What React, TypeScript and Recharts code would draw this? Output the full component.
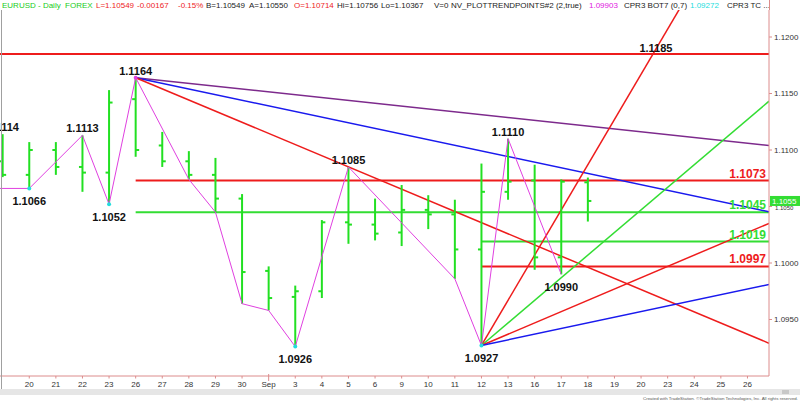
import React from 'react';
import {
  ComposedChart,
  XAxis,
  YAxis,
  Line,
  Scatter,
  ReferenceLine,
  ReferenceDot,
} from 'recharts';

// x axis: one slot per trading day, Aug 20 .. Sep 26
const dateLabels = ['20', '21', '22', '23', '26', '27', '28', '29', '30', 'Sep', '3', '4', '5', '6', '9', '10', '11', '12', '13', '16', '17', '18', '19', '20', '23', '24', '25', '26'];

// daily OHLC (slot -1 is Aug 19, cut by the left edge)
const barDays = [-1, 0, 1, 2, 3, 4, 5, 6, 7, 8, 9, 10, 11, 12, 13, 14, 15, 16, 17, 18, 19, 20, 21];
const opens = [1.1090, 1.1078, 1.1100, 1.1085, 1.1080, 1.1145, 1.1104, 1.1090, 1.1078, 1.1057, 1.0993, 1.0970, 1.0975, 1.1036, 1.1034, 1.1027, 1.1047, 1.1043, 1.1012, 1.1063, 1.1073, 1.1005, 1.10714];
const highs = [1.1114, 1.1107, 1.1107, 1.1113, 1.1153, 1.1164, 1.1116, 1.1099, 1.1093, 1.1061, 1.0997, 1.0980, 1.1038, 1.1085, 1.1057, 1.1069, 1.1060, 1.1056, 1.1088, 1.1110, 1.1087, 1.1074, 1.10756];
const lows = [1.1076, 1.1066, 1.1078, 1.1063, 1.1052, 1.1094, 1.1085, 1.1074, 1.1045, 1.0964, 1.0958, 1.0926, 1.0969, 1.1017, 1.1020, 1.1015, 1.1030, 1.0986, 1.0927, 1.1056, 1.0994, 1.0990, 1.10367];
const closes = [1.1078, 1.1100, 1.1085, 1.1080, 1.1142, 1.1100, 1.1090, 1.1078, 1.1057, 1.0992, 1.0969, 1.0975, 1.1036, 1.1034, 1.1026, 1.1047, 1.1043, 1.1012, 1.1063, 1.1072, 1.1005, 1.1072, 1.10549];

// NV_PLOTTRENDPOINTS swing line
const zigzagDays = [-1.1, 0, 2, 3, 4, 6, 7, 8, 9, 10, 12, 16, 17, 18, 20];
const zigzagPrices = [1.1066, 1.1066, 1.1113, 1.1052, 1.1164, 1.1074, 1.1045, 1.0964, 1.0958, 1.0926, 1.1085, 1.0986, 1.0927, 1.1110, 1.0990];

// labelled pivots
const pivotDays = [-1, 0, 2, 3, 4, 10, 12, 17, 18, 20];
const pivotPrices = [1.1114, 1.1066, 1.1113, 1.1052, 1.1164, 1.0926, 1.1085, 1.0927, 1.1110, 1.0990];
const pivotIsHigh = [true, false, true, false, true, false, true, false, true, false];
const lowMarkers = [0, 3, 10, 17];
const highMarkers = [4];

// horizontal levels
const levelPrices = [1.1185, 1.1073, 1.1045, 1.1019, 1.0997];
const levelStart = [-1.1, 4, 4, 17, 17];
const levelLabelled = [false, true, true, true, true];

// trend lines off the Aug 26 high
const trendStart = { day: 4, price: 1.1164 };
const trendEndPrices = [1.1104, 1.10454, 1.0929];

// fan lines off the Sep 12 low, price per day
const fanStart = { day: 17, price: 1.0927 };
const fanSlopes = [0.0040, 0.0020, 0.0010, 0.0005];

const priceTicks = [1.095, 1.1, 1.105, 1.11, 1.115, 1.12];
const lastPrice = 1.10549;

const X_MIN = -1.1;
const X_MAX = 27.81;
const Y_MIN = 1.09;
const Y_MAX = 1.12239;

const colors = {
  bar: '#22e022',
  green: '#33dd33',
  red: '#ee1c1c',
  blue: '#1a1aee',
  purple: '#7d2a8c',
  zigzag: '#e040e0',
  cyan: '#22dddd',
  axis: '#dc8c8c',
  text: '#333',
};
const levelColors = [colors.red, colors.red, colors.green, colors.green, colors.red];
const trendColors = [colors.purple, colors.blue, colors.red];
const fanColors = [colors.red, colors.green, colors.red, colors.blue];

const openData = barDays.map((d, i) => ({ x: d, y: opens[i] }));
const closeData = barDays.map((d, i) => ({ x: d, y: closes[i] }));
const zigzagData = zigzagDays.map((d, i) => ({ x: d, y: zigzagPrices[i] }));

const OpenTick = (p: any) => (
  <line x1={p.cx - 3.5} x2={p.cx} y1={p.cy} y2={p.cy} stroke={colors.bar} strokeWidth={2} />
);
const CloseTick = (p: any) => (
  <line x1={p.cx} x2={p.cx + 3.5} y1={p.cy} y2={p.cy} stroke={colors.bar} strokeWidth={2} />
);

const DateTick = (p: any) => {
  const label = dateLabels[p.payload.value];
  const axisY = p.y - 5;
  const isMonth = label === 'Sep';
  return (
    <g>
      <line x1={p.x} x2={p.x} y1={isMonth ? axisY - 2 : axisY} y2={isMonth ? axisY + 5 : axisY + 2.5} stroke={colors.axis} />
      <text x={p.x} y={p.y} dy="0.71em" textAnchor="middle" fontSize={8} fill={colors.text}>
        {label}
      </text>
    </g>
  );
};

// price axis label: the 1.1050 label sits under the last-price tag
const PriceAxisTick = (p: any) => {
  const v = p.payload.value;
  if (Math.abs(v - 1.105) < 1e-6) return <g />;
  return (
    <text x={p.x} y={p.y} dy="0.35em" textAnchor="start" fontSize={8} fill={colors.text}>
      {v.toFixed(4)}
    </text>
  );
};

const PriceTag = (p: any) => {
  const vb = p.viewBox || {};
  const x = (vb.x || 0) + (vb.width || 0) + 1;
  const y = vb.y || 0;
  return (
    <g>
      <text x={x + 5} y={y + 9} fontSize={6} fill={colors.text}>1.1050</text>
      <rect x={x} y={y - 5} width={31} height={10} fill={colors.green} />
      <text x={x + 2} y={y + 3} fontSize={8} fill="#fff">
        {lastPrice.toFixed(4)}
      </text>
    </g>
  );
};

const headerItems: Array<[number, string, string]> = [
  [2, 'EURUSD - Daily  FOREX', '#22cc22'],
  [96, 'L=1.10549', colors.red],
  [137, '-0.00167', colors.red],
  [178, '-0.15%', colors.red],
  [206, 'B=1.10549', '#222'],
  [249, 'A=1.10550', '#222'],
  [294, 'O=1.10714', colors.red],
  [337, 'Hi=1.10756', '#222'],
  [381, 'Lo=1.10367', '#222'],
  [434, 'V=0', '#222'],
  [451, 'NV_PLOTTRENDPOINTS#2 (2,true)', '#222'],
  [589, '1.09903', '#e020e0'],
  [624, 'CPR3 BOT7 (0,7)', '#222'],
  [690, '1.09272', colors.cyan],
  [727, 'CPR3 TC ...', '#222'],
];

const labelFont = { fontSize: 11, fontWeight: 'bold' as const, fill: '#111' };

export default function App() {
  return (
    <div
      style={{
        position: 'absolute',
        left: 0,
        top: 0,
        width: 800,
        height: 402,
        background: '#fff',
        overflow: 'hidden',
        fontFamily: 'Arial, "Liberation Sans", sans-serif',
      }}
    >
      <ComposedChart
        width={800}
        height={402}
        margin={{ top: 10, right: 0, bottom: 0, left: 0 }}
        style={{ position: 'absolute', left: 0, top: 0 }}
      >
        <XAxis
          dataKey="x"
          type="number"
          domain={[X_MIN, X_MAX]}
          allowDataOverflow
          ticks={dateLabels.map((_, i) => i)}
          interval={0}
          height={26}
          tickSize={3}
          tickMargin={2}
          tickLine={false}
          axisLine={{ stroke: colors.axis }}
          tick={<DateTick />}
        />
        <YAxis
          dataKey="y"
          type="number"
          orientation="right"
          domain={[Y_MIN, Y_MAX]}
          allowDataOverflow
          ticks={priceTicks}
          interval={0}
          width={31}
          tickSize={3}
          tickMargin={2}
          axisLine={{ stroke: colors.axis }}
          tickLine={{ stroke: colors.axis }}
          tick={<PriceAxisTick />}
        />

        {/* horizontal levels */}
        {levelPrices.map((p, i) => (
          <ReferenceLine
            key={`lv-${i}`}
            segment={[{ x: levelStart[i], y: p }, { x: X_MAX, y: p }]}
            stroke={levelColors[i]}
            strokeWidth={2}
            ifOverflow="visible"
            label={
              levelLabelled[i]
                ? { value: p.toFixed(4), position: 'insideBottomRight', offset: 3, fill: levelColors[i], fontSize: 12, fontWeight: 'bold' }
                : undefined
            }
          />
        ))}

        {/* trend lines from the high */}
        {trendEndPrices.map((p, i) => (
          <ReferenceLine
            key={`tr-${i}`}
            segment={[{ x: trendStart.day, y: trendStart.price }, { x: X_MAX, y: p }]}
            stroke={trendColors[i]}
            strokeWidth={1.5}
            ifOverflow="hidden"
          />
        ))}

        {/* fan from the low */}
        {fanSlopes.map((s, i) => (
          <ReferenceLine
            key={`fan-${i}`}
            segment={[
              { x: fanStart.day, y: fanStart.price },
              { x: X_MAX, y: fanStart.price + s * (X_MAX - fanStart.day) },
            ]}
            stroke={fanColors[i]}
            strokeWidth={1.5}
            ifOverflow="hidden"
          />
        ))}

        {/* OHLC bars */}
        {barDays.map((d, i) => (
          <ReferenceLine
            key={`bar-${i}`}
            segment={[{ x: d, y: lows[i] }, { x: d, y: highs[i] }]}
            stroke={colors.bar}
            strokeWidth={2}
            ifOverflow="hidden"
          />
        ))}
        <Scatter data={openData} dataKey="y" shape={OpenTick} isAnimationActive={false} />
        <Scatter data={closeData} dataKey="y" shape={CloseTick} isAnimationActive={false} />

        <Line
          data={zigzagData}
          dataKey="y"
          type="linear"
          stroke={colors.zigzag}
          strokeWidth={1}
          dot={false}
          activeDot={false}
          isAnimationActive={false}
        />

        {/* pivot labels */}
        {pivotDays.map((d, i) => {
          const marker = lowMarkers.includes(d) ? colors.cyan : highMarkers.includes(d) ? colors.zigzag : 'none';
          return (
            <ReferenceDot
              key={`pv-${i}`}
              x={d}
              y={pivotPrices[i]}
              r={2}
              fill={marker}
              stroke="none"
              ifOverflow="visible"
              label={{
                value: pivotPrices[i].toFixed(4),
                position: pivotIsHigh[i] ? 'top' : 'bottom',
                offset: pivotIsHigh[i] ? 1 : 7,
                ...labelFont,
              }}
            />
          );
        })}
        <ReferenceDot
          x={23.56}
          y={levelPrices[0]}
          r={0}
          fill="none"
          stroke="none"
          ifOverflow="visible"
          label={{ value: levelPrices[0].toFixed(4), position: 'top', offset: 2, ...labelFont }}
        />

        <ReferenceLine y={lastPrice} stroke="none" ifOverflow="visible" label={<PriceTag />} />
      </ComposedChart>

      {/* header line */}
      {headerItems.map(([x, t, c], i) => (
        <span
          key={`h-${i}`}
          style={{ position: 'absolute', left: x, top: 1, fontSize: 8, lineHeight: '10px', color: c, whiteSpace: 'pre' }}
        >
          {t}
        </span>
      ))}

      {/* frame bits */}
      <div style={{ position: 'absolute', left: 1, top: 10, width: 1, height: 380, background: '#a0a0a0' }} />
      <div style={{ position: 'absolute', left: 769, top: 0, width: 1, height: 10, background: colors.axis }} />
      <div style={{ position: 'absolute', left: 0, top: 389, width: 800, height: 6, background: '#e6e6e6' }} />
      <div style={{ position: 'absolute', left: 782, top: 390, width: 7, height: 4, background: '#c8c8c8' }} />
      <svg style={{ position: 'absolute', left: 0, top: 394 }} width={800} height={8}>
        <text x={643} y={5.5} fontSize={4} fill="#555" textLength={155} lengthAdjust="spacingAndGlyphs">
          Created with TradeStation. ©TradeStation Technologies, Inc. All rights reserved.
        </text>
      </svg>
    </div>
  );
}
